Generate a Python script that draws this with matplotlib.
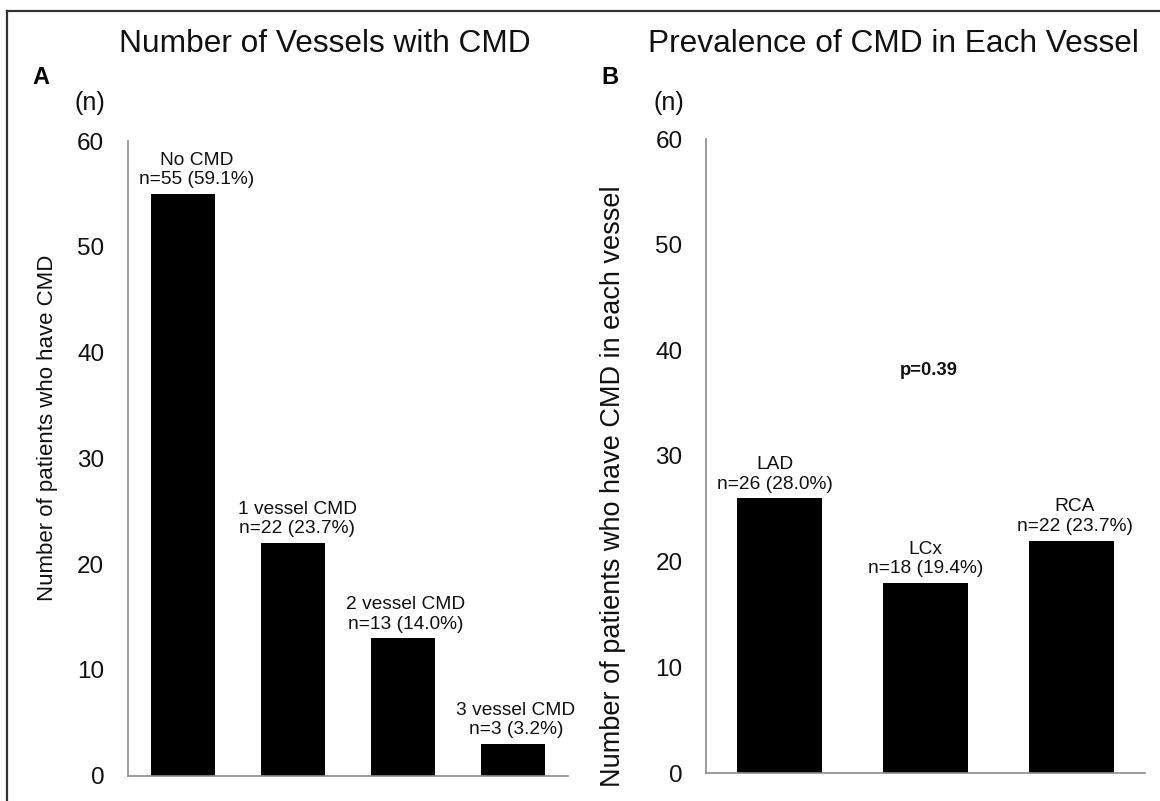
import numpy as np
import matplotlib
matplotlib.use('Agg')
import matplotlib.pyplot as plt
from matplotlib.lines import Line2D

plt.rcParams['font.family'] = ['Liberation Sans', 'DejaVu Sans']

# panel A: number of vessels with CMD
vessel_cats = ['No CMD', '1 vessel CMD', '2 vessel CMD', '3 vessel CMD']
vessel_n = [55, 22, 13, 3]
vessel_pct = [59.1, 23.7, 14.0, 3.2]

# panel B: prevalence in each vessel
artery_cats = ['LAD', 'LCx', 'RCA']
artery_n = [26, 18, 22]
artery_pct = [28.0, 19.4, 23.7]

yticks = [0, 10, 20, 30, 40, 50, 60]
p_text = 'p=0.39'

W, H = 1160, 801
fig = plt.figure(figsize=(W / 100, H / 100), dpi=100)


def px(x0, y0, x1, y1):
    # pixel box -> figure fraction rect
    return [x0 / W, 1 - y1 / H, (x1 - x0) / W, (y1 - y0) / H]


def panel(ax, cats, n, pct, label_dx):
    x = np.arange(len(cats))
    ax.bar(x, n, width=0.58, color='black')
    ax.set_xlim(-0.5, len(cats) - 0.5)
    ax.set_ylim(0, 60)
    ax.set_yticks(yticks)
    ax.set_xticks([])
    ax.tick_params(axis='y', length=0, pad=17, labelsize=17.5, labelcolor='#111111')
    for s in ['top', 'right']:
        ax.spines[s].set_visible(False)
    for s in ['left', 'bottom']:
        ax.spines[s].set_color('#8c8c8c')
        ax.spines[s].set_linewidth(1.2)
    for i in range(len(cats)):
        ax.annotate('%s\nn=%d (%.1f%%)' % (cats[i], n[i], pct[i]),
                    xy=(x[i], n[i]), xytext=(label_dx[i], 4),
                    textcoords='offset points', ha='center', va='bottom',
                    fontsize=13.8, linespacing=1.2, color='#111111')


axA = fig.add_axes(px(127.8, 141, 568, 775.7))
panel(axA, vessel_cats, vessel_n, vessel_pct, [10, 3, 2, 2])

axB = fig.add_axes(px(706, 139, 1145, 773))
panel(axB, artery_cats, artery_n, artery_pct, [-3, 0, 2])
axB.text(1.02, 38.1, p_text, ha='center', va='center', fontsize=13.3,
         fontweight='bold', color='#111111')

# titles, panel letters, units
fig.text(325 / W, 1 - 44 / H, 'Number of Vessels with CMD', ha='center', va='center',
         fontsize=22.8, color='#111111')
fig.text(893.5 / W, 1 - 44 / H, 'Prevalence of CMD in Each Vessel', ha='center', va='center',
         fontsize=22.8, color='#111111')
fig.text(32 / W, 1 - 77 / H, 'A', ha='left', va='center', fontsize=17, fontweight='bold')
fig.text(601 / W, 1 - 77 / H, 'B', ha='left', va='center', fontsize=17, fontweight='bold')
fig.text(90 / W, 1 - 103 / H, '(n)', ha='center', va='center', fontsize=18, color='#111111')
fig.text(668.5 / W, 1 - 103 / H, '(n)', ha='center', va='center', fontsize=18, color='#111111')

fig.text(48 / W, 1 - 428 / H, 'Number of patients who have CMD', rotation=90,
         ha='center', va='center', fontsize=16, color='#111111')
fig.text(613 / W, 1 - 486 / H, 'Number of patients who have CMD in each vessel', rotation=90,
         ha='center', va='center', fontsize=19.5, color='#111111')

# frame lines (top and left)
fig.add_artist(Line2D([7 / W, 1], [1 - 11 / H, 1 - 11 / H], color='#333333', lw=1.6))
fig.add_artist(Line2D([7 / W, 7 / W], [0, 1 - 11 / H], color='#333333', lw=1.6))

fig.savefig('out.png', dpi=100)
plt.close(fig)
